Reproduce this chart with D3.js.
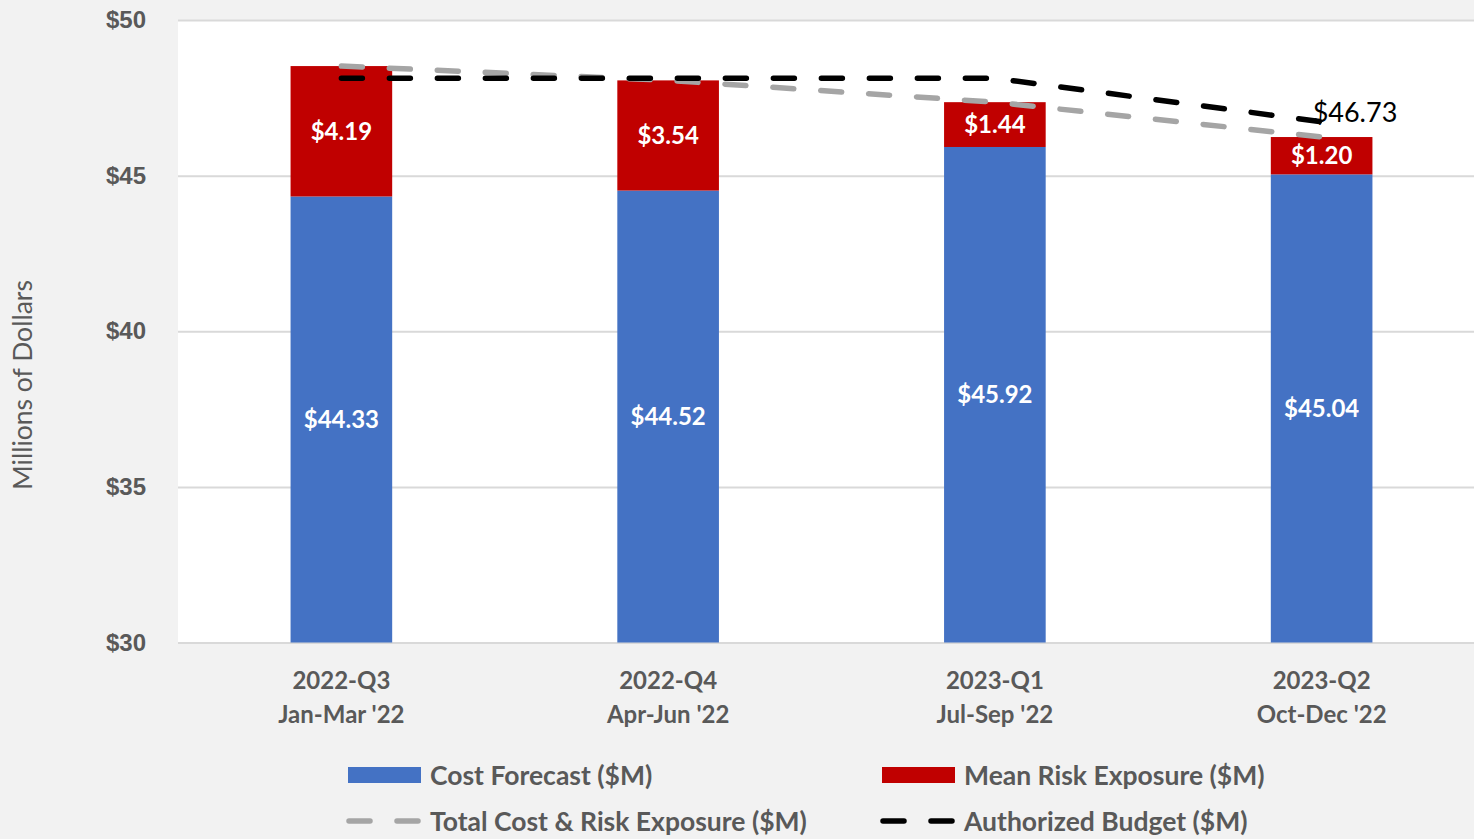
<!DOCTYPE html>
<html>
<head>
<meta charset="utf-8">
<script src="https://cdn.jsdelivr.net/npm/d3@7"></script>
<style>
  html, body { margin: 0; padding: 0; background: #f2f2f2; }
  svg { display: block; font-family: Lato, "Open Sans", sans-serif; }
  .tick text { fill: #595959; font-weight: bold; font-size: 24px; }
  .grid line { stroke: #d9d9d9; stroke-width: 2; }
  .xlabel { fill: #595959; font-weight: bold; font-size: 24px; }
  .barLabel { fill: #fff; font-weight: bold; font-size: 24px; }
  .legend text { fill: #595959; font-weight: bold; font-size: 26.5px; }
</style>
</head>
<body>
<svg id="chart" width="1474" height="839"></svg>
<script>
const quarters = ["2022-Q3", "2022-Q4", "2023-Q1", "2023-Q2"];
const periods = ["Jan-Mar '22", "Apr-Jun '22", "Jul-Sep '22", "Oct-Dec '22"];
const costForecast = [44.33, 44.52, 45.92, 45.04];
const riskExposure = [4.19, 3.54, 1.44, 1.20];
const totalExposure = [48.52, 48.06, 47.36, 46.24];
const authorizedBudget = [48.13, 48.13, 48.13, 46.73];
const yTicks = [30, 35, 40, 45, 50];

const svg = d3.select('#chart');
const plot = {left: 178, right: 1485, top: 20, bottom: 642.5};
const dash = '21,27';

const x = d3.scaleBand()
    .domain(quarters)
    .range([plot.left, plot.right]);
const barWidth = x.bandwidth() * 0.311;
const cx = q => x(q) + x.bandwidth() / 2;

const y = d3.scaleLinear()
    .domain([30, 50])
    .range([plot.bottom, plot.top]);

// plot background
svg.append('rect')
    .attr('x', plot.left)
    .attr('y', plot.top)
    .attr('width', plot.right - plot.left)
    .attr('height', plot.bottom - plot.top)
    .attr('fill', '#fff');

svg.append('g')
    .attr('class', 'grid')
    .attr('transform', `translate(${plot.left},0)`)
    .call(d3.axisLeft(y)
        .tickValues(yTicks)
        .tickSize(-(plot.right - plot.left))
        .tickPadding(32)
        .tickFormat(d => '$' + d))
    .call(g => g.select('.domain').remove());

svg.append('text')
    .attr('transform', 'translate(32,385) rotate(-90)')
    .attr('text-anchor', 'middle')
    .attr('fill', '#595959')
    .style('font-size', '26.5px')
    .text('Millions of Dollars');

// stacked bars
const rows = quarters.map((q, i) => ({
    q, cost: costForecast[i], risk: riskExposure[i]
}));

let bars = svg.append('g');
bars.selectAll('rect.cost')
    .data(rows)
    .join('rect')
    .attr('class', 'cost')
    .attr('x', d => cx(d.q) - barWidth / 2)
    .attr('width', barWidth)
    .attr('y', d => y(d.cost))
    .attr('height', d => y(30) - y(d.cost))
    .attr('fill', '#4472c4');

bars.selectAll('rect.risk')
    .data(rows)
    .join('rect')
    .attr('class', 'risk')
    .attr('x', d => cx(d.q) - barWidth / 2)
    .attr('width', barWidth)
    .attr('y', d => y(d.cost + d.risk))
    .attr('height', d => y(d.cost) - y(d.cost + d.risk))
    .attr('fill', '#c00000');

// dashed lines
const line = d3.line()
    .x(d => cx(d.q))
    .y(d => y(d.v));

const lineGroup = svg.append('g');
[[totalExposure, '#a5a5a5'], [authorizedBudget, '#000']].forEach(([vals, color]) => {
    lineGroup.append('path')
        .datum(quarters.map((q, i) => ({q, v: vals[i]})))
        .attr('d', line)
        .attr('fill', 'none')
        .attr('stroke', color)
        .attr('stroke-width', 5.5)
        .attr('stroke-linecap', 'round')
        .attr('stroke-dasharray', dash);
});

// bar labels
let labels = svg.append('g');
labels.selectAll('text.costLabel')
    .data(rows)
    .join('text')
    .attr('class', 'barLabel')
    .attr('x', d => cx(d.q))
    .attr('y', d => (y(30) + y(d.cost)) / 2)
    .attr('dy', '0.35em')
    .attr('text-anchor', 'middle')
    .text(d => '$' + d.cost.toFixed(2));

labels.selectAll('text.riskLabel')
    .data(rows)
    .join('text')
    .attr('class', 'barLabel')
    .attr('x', d => cx(d.q))
    .attr('y', d => (y(d.cost) + y(d.cost + d.risk)) / 2)
    .attr('dy', '0.35em')
    .attr('text-anchor', 'middle')
    .text(d => '$' + d.risk.toFixed(2));

const last = quarters.length - 1;
svg.append('text')
    .attr('x', cx(quarters[last]) - 9)
    .attr('y', y(authorizedBudget[last]))
    .attr('fill', '#000')
    .style('font-size', '27px')
    .text('$' + authorizedBudget[last].toFixed(2));

// category labels
let xl = svg.append('g');
quarters.forEach((q, i) => {
    let t = xl.append('text')
        .attr('class', 'xlabel')
        .attr('text-anchor', 'middle')
        .attr('x', cx(q));
    t.append('tspan').attr('x', cx(q)).attr('y', 689).text(q);
    t.append('tspan').attr('x', cx(q)).attr('y', 723).text(periods[i]);
});

// legend
const legendItems = [
    {label: 'Cost Forecast ($M)', type: 'rect', color: '#4472c4', col: 0, row: 0},
    {label: 'Mean Risk Exposure ($M)', type: 'rect', color: '#c00000', col: 1, row: 0},
    {label: 'Total Cost & Risk Exposure ($M)', type: 'line', color: '#a5a5a5', col: 0, row: 1},
    {label: 'Authorized Budget ($M)', type: 'line', color: '#000', col: 1, row: 1}
];

const legend = svg.append('g').attr('class', 'legend');
legendItems.forEach(item => {
    let gx = item.col === 0 ? 348 : 882;
    let gy = item.row === 0 ? 775 : 821;
    let g = legend.append('g').attr('transform', `translate(${gx},${gy})`);
    if (item.type === 'rect') {
        g.append('rect')
            .attr('x', 0).attr('y', -8)
            .attr('width', 73).attr('height', 16)
            .attr('fill', item.color);
    } else {
        g.append('line')
            .attr('x1', 1).attr('x2', 71)
            .attr('stroke', item.color)
            .attr('stroke-width', 5.5)
            .attr('stroke-linecap', 'round')
            .attr('stroke-dasharray', dash);
    }
    g.append('text')
        .attr('x', 82)
        .attr('dy', '0.36em')
        .text(item.label);
});
</script>
</body>
</html>
